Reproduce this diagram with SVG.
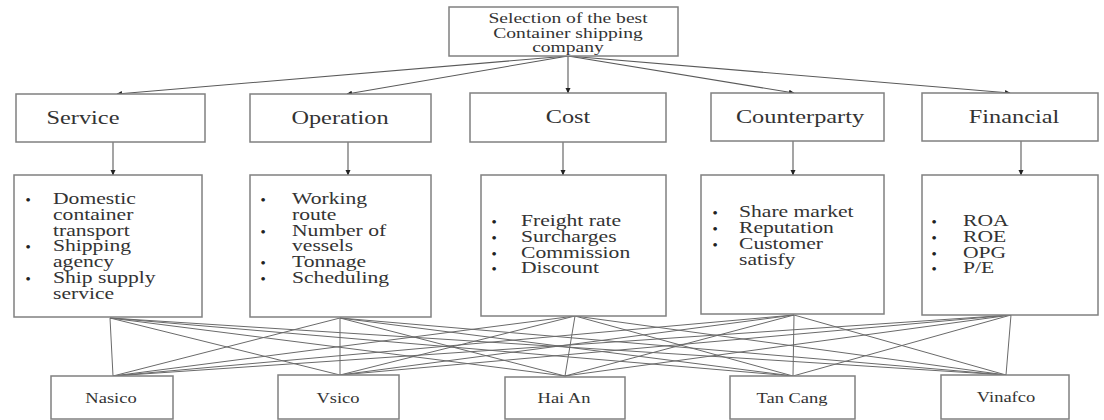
<svg xmlns="http://www.w3.org/2000/svg" width="1104" height="420" viewBox="0 0 1104 420">
<defs>
<style>
.box{fill:#fff;stroke:#808080;stroke-width:1.5}
.ln{stroke:#5a5a5a;stroke-width:1.1;fill:none}
.mesh{stroke:#6a6a6a;stroke-width:1;fill:none}
text{font-family:"Liberation Serif","Times New Roman",serif;fill:#333}
.t0{font-size:14.5px;text-anchor:middle}
.t1{font-size:18px;text-anchor:middle}
.t2{font-size:16px}
.b{font-size:13.5px;font-weight:bold;text-anchor:middle;fill:#222}
.t3{font-size:13.7px;text-anchor:middle}
</style>
<marker id="ah" markerWidth="6" markerHeight="6" refX="5" refY="3" orient="auto" markerUnits="userSpaceOnUse">
<path d="M0,0.5 L5.5,3 L0,5.5 Z" fill="#222"/>
</marker>
</defs>
<rect width="1104" height="420" fill="#fff"/>

<g id="connectors">
<line class="ln" x1="568" y1="56" x2="117" y2="94" marker-end="url(#ah)"/>
<line class="ln" x1="568" y1="56" x2="347" y2="94" marker-end="url(#ah)"/>
<line class="ln" x1="568" y1="56" x2="568" y2="93" marker-end="url(#ah)"/>
<line class="ln" x1="568" y1="56" x2="794" y2="93" marker-end="url(#ah)"/>
<line class="ln" x1="568" y1="56" x2="1010" y2="93" marker-end="url(#ah)"/>
<line class="ln" x1="113" y1="142" x2="113" y2="175" marker-end="url(#ah)"/>
<line class="ln" x1="348" y1="142" x2="348" y2="175" marker-end="url(#ah)"/>
<line class="ln" x1="563" y1="142" x2="563" y2="175" marker-end="url(#ah)"/>
<line class="ln" x1="793" y1="141" x2="793" y2="175" marker-end="url(#ah)"/>
<line class="ln" x1="1021" y1="141" x2="1021" y2="175" marker-end="url(#ah)"/>
<g class="mesh">
<path d="M110,318 L113,376 M110,318 L340,375 M110,318 L565,376 M110,318 L793,376 M110,318 L1006,375"/>
<path d="M340,318 L113,376 M340,318 L340,375 M340,318 L565,376 M340,318 L793,376 M340,318 L1006,375"/>
<path d="M575,316 L113,376 M575,316 L340,375 M575,316 L565,376 M575,316 L793,376 M575,316 L1006,375"/>
<path d="M794,315 L113,376 M794,315 L340,375 M794,315 L565,376 M794,315 L793,376 M794,315 L1006,375"/>
<path d="M1011,315 L113,376 M1011,315 L340,375 M1011,315 L565,376 M1011,315 L793,376 M1011,315 L1006,375"/>
</g>
</g>

<g id="goal">
<rect class="box" x="449" y="7" width="229" height="49"/>
<text class="t0" transform="matrix(1.35 0 0 1 568 23)">Selection of the best</text>
<text class="t0" transform="matrix(1.35 0 0 1 568 37.5)">Container shipping</text>
<text class="t0" transform="matrix(1.35 0 0 1 568 52)">company</text>
</g>

<g id="service">
<rect class="box" x="16" y="94" width="189" height="48"/>
<text class="t1" transform="matrix(1.35 0 0 1 83 124)">Service</text>
</g>
<g id="operation">
<rect class="box" x="250" y="94" width="181" height="48"/>
<text class="t1" transform="matrix(1.35 0 0 1 340 124)">Operation</text>
</g>
<g id="cost">
<rect class="box" x="470" y="93" width="196" height="49"/>
<text class="t1" transform="matrix(1.35 0 0 1 568 123)">Cost</text>
</g>
<g id="counterparty">
<rect class="box" x="711" y="93" width="173" height="48"/>
<text class="t1" transform="matrix(1.35 0 0 1 800 123)">Counterparty</text>
</g>
<g id="financial">
<rect class="box" x="922" y="93" width="176" height="48"/>
<text class="t1" transform="matrix(1.35 0 0 1 1014 123)">Financial</text>
</g>

<g id="service-items">
<rect class="box" x="14" y="175" width="188" height="142"/>
<text class="b" x="28" y="204">•</text>
<text class="b" x="28" y="251.4">•</text>
<text class="b" x="28" y="283">•</text>
<text class="t2" transform="matrix(1.35 0 0 1 53 204)">Domestic</text>
<text class="t2" transform="matrix(1.35 0 0 1 53 219.8)">container</text>
<text class="t2" transform="matrix(1.35 0 0 1 53 235.6)">transport</text>
<text class="t2" transform="matrix(1.35 0 0 1 53 251.4)">Shipping</text>
<text class="t2" transform="matrix(1.35 0 0 1 53 267.2)">agency</text>
<text class="t2" transform="matrix(1.35 0 0 1 53 283)">Ship supply</text>
<text class="t2" transform="matrix(1.35 0 0 1 53 298.8)">service</text>
</g>
<g id="operation-items">
<rect class="box" x="250" y="175" width="181" height="142"/>
<text class="b" x="263" y="204">•</text>
<text class="b" x="263" y="235.6">•</text>
<text class="b" x="263" y="267.2">•</text>
<text class="b" x="263" y="283">•</text>
<text class="t2" transform="matrix(1.35 0 0 1 292 204)">Working</text>
<text class="t2" transform="matrix(1.35 0 0 1 292 219.8)">route</text>
<text class="t2" transform="matrix(1.35 0 0 1 292 235.6)">Number of</text>
<text class="t2" transform="matrix(1.35 0 0 1 292 251.4)">vessels</text>
<text class="t2" transform="matrix(1.35 0 0 1 292 267.2)">Tonnage</text>
<text class="t2" transform="matrix(1.35 0 0 1 292 283)">Scheduling</text>
</g>
<g id="cost-items">
<rect class="box" x="481" y="175" width="185" height="141"/>
<text class="b" x="494" y="226">•</text>
<text class="b" x="494" y="242">•</text>
<text class="b" x="494" y="257.5">•</text>
<text class="b" x="494" y="273">•</text>
<text class="t2" transform="matrix(1.35 0 0 1 521 226)">Freight rate</text>
<text class="t2" transform="matrix(1.35 0 0 1 521 242)">Surcharges</text>
<text class="t2" transform="matrix(1.35 0 0 1 521 257.5)">Commission</text>
<text class="t2" transform="matrix(1.35 0 0 1 521 273)">Discount</text>
</g>
<g id="counterparty-items">
<rect class="box" x="701" y="175" width="183" height="139"/>
<text class="b" x="715" y="217">•</text>
<text class="b" x="715" y="233">•</text>
<text class="b" x="715" y="249">•</text>
<text class="t2" transform="matrix(1.35 0 0 1 739 217)">Share market</text>
<text class="t2" transform="matrix(1.35 0 0 1 739 233)">Reputation</text>
<text class="t2" transform="matrix(1.35 0 0 1 739 249)">Customer</text>
<text class="t2" transform="matrix(1.35 0 0 1 739 265)">satisfy</text>
</g>
<g id="financial-items">
<rect class="box" x="922" y="175" width="176" height="140"/>
<text class="b" x="934" y="226">•</text>
<text class="b" x="934" y="242">•</text>
<text class="b" x="934" y="257.5">•</text>
<text class="b" x="934" y="273">•</text>
<text class="t2" transform="matrix(1.35 0 0 1 963 226)">ROA</text>
<text class="t2" transform="matrix(1.35 0 0 1 963 242)">ROE</text>
<text class="t2" transform="matrix(1.35 0 0 1 963 257.5)">OPG</text>
<text class="t2" transform="matrix(1.35 0 0 1 963 273)">P/E</text>
</g>

<g id="nasico">
<rect class="box" x="51" y="376" width="122" height="43"/>
<text class="t3" transform="matrix(1.35 0 0 1 111 403)">Nasico</text>
</g>
<g id="vsico">
<rect class="box" x="278" y="375" width="121" height="44"/>
<text class="t3" transform="matrix(1.35 0 0 1 338 403)">Vsico</text>
</g>
<g id="haian">
<rect class="box" x="505" y="377" width="120" height="42"/>
<text class="t3" transform="matrix(1.35 0 0 1 564 403)">Hai An</text>
</g>
<g id="tancang">
<rect class="box" x="730" y="376" width="125" height="43"/>
<text class="t3" transform="matrix(1.35 0 0 1 792 403)">Tan Cang</text>
</g>
<g id="vinafco">
<rect class="box" x="941" y="375" width="128" height="44"/>
<text class="t3" transform="matrix(1.35 0 0 1 1006 402)">Vinafco</text>
</g>
</svg>
